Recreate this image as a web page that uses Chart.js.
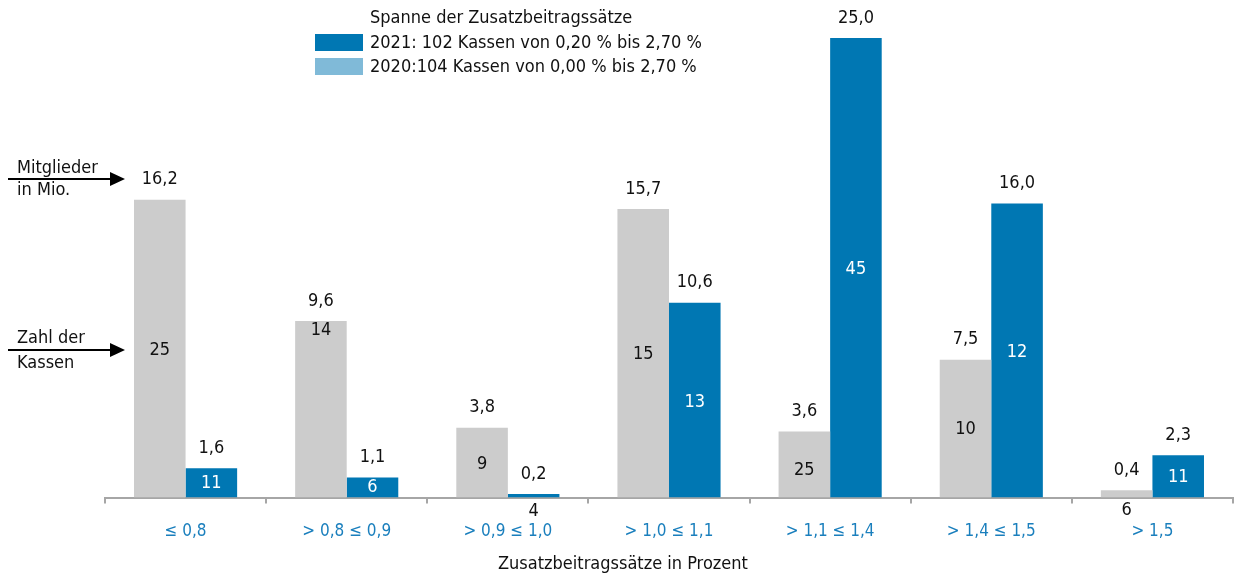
<!DOCTYPE html>
<html>
<head>
  <meta charset="utf-8">
  <title>Zusatzbeitragssätze</title>
  <script src="https://cdn.jsdelivr.net/npm/chart.js@4/dist/chart.umd.min.js"></script>
  <style>
    body { margin: 0; background: #fff; font-family: "Liberation Sans Narrow", "DejaVu Sans Condensed", sans-serif; }
    #wrap { position: relative; width: 1238px; height: 577px; }
    .txt { position: absolute; font-size: 18px; color: #111; white-space: nowrap; line-height: 22px; }
    .box { position: absolute; width: 48px; height: 17px; }
  </style>
</head>
<body>
  <div id="wrap">
    <canvas id="chart" width="1238" height="577"></canvas>
    <div class="txt" style="left:370px; top:6px;">Spanne der Zusatzbeitragssätze</div>
    <div class="box" style="left:315px; top:34px; background:#0077b3;"></div>
    <div class="txt" style="left:370px; top:31px;">2021: 102 Kassen von 0,20 % bis 2,70 %</div>
    <div class="box" style="left:315px; top:58px; background:#80bad8;"></div>
    <div class="txt" style="left:370px; top:55px;">2020:104 Kassen von 0,00 % bis 2,70 %</div>

    <div class="txt" style="left:17px; top:156px;">Mitglieder</div>
    <div class="txt" style="left:17px; top:178px;">in Mio.</div>
    <div class="txt" style="left:17px; top:326px;">Zahl der</div>
    <div class="txt" style="left:17px; top:351px;">Kassen</div>
    <svg style="position:absolute; left:0; top:0;" width="140" height="400">
      <line x1="8" y1="179" x2="112" y2="179" stroke="#000" stroke-width="2"/>
      <polygon points="110,172 125,179 110,186" fill="#000"/>
      <line x1="8" y1="350" x2="112" y2="350" stroke="#000" stroke-width="2"/>
      <polygon points="110,343 125,350 110,357" fill="#000"/>
    </svg>

    <div class="txt" style="left:498px; top:552px;">Zusatzbeitragssätze in Prozent</div>
  </div>
  <script>
    // Kategorien und Werte
    var categories = ["≤ 0,8", "> 0,8 ≤ 0,9", "> 0,9 ≤ 1,0", "> 1,0 ≤ 1,1", "> 1,1 ≤ 1,4", "> 1,4 ≤ 1,5", "> 1,5"];
    var members2020 = [16.2, 9.6, 3.8, 15.7, 3.6, 7.5, 0.4];
    var members2021 = [1.6, 1.1, 0.2, 10.6, 25.0, 16.0, 2.3];
    var funds2020 = [25, 14, 9, 15, 25, 10, 6];
    var funds2021 = [11, 6, 4, 13, 45, 12, 11];

    // where the Kassen count sits in each bar (y value on the scale)
    var countAt2020 = [8.0, 9.1, 1.8, 7.8, 1.5, 3.7, -0.7];
    var countAt2021 = [0.76, 0.54, -0.76, 5.2, 12.4, 7.9, 1.1];

    var fmt = function (v) { return v.toFixed(1).replace(".", ","); };
    var FONT = '"Liberation Sans Narrow", "DejaVu Sans Condensed", sans-serif';

    var barLabels = {
      id: 'barLabels',
      afterDatasetsDraw: function (chart) {
        var ctx = chart.ctx;
        var y = chart.scales.y;
        ctx.save();
        ctx.font = '18px ' + FONT;
        ctx.textAlign = 'center';
        ctx.textBaseline = 'middle';
        [[members2020, funds2020, countAt2020], [members2021, funds2021, countAt2021]].forEach(function (set, di) {
          var meta = chart.getDatasetMeta(di);
          meta.data.forEach(function (bar, i) {
            ctx.fillStyle = '#111';
            ctx.fillText(fmt(set[0][i]), bar.x, bar.y - 20);
            var cy = y.getPixelForValue(set[2][i]);
            var inside = set[2][i] > 0;
            ctx.fillStyle = (di === 1 && inside) ? '#fff' : '#111';
            ctx.fillText(String(set[1][i]), bar.x, cy);
          });
        });
        ctx.restore();
      }
    };

    var chart = new Chart(document.getElementById('chart'), {
      type: 'bar',
      data: {
        labels: categories,
        datasets: [
          { label: "2020", data: members2020, backgroundColor: '#cccccc' },
          { label: "2021", data: members2021, backgroundColor: '#0077b3' }
        ]
      },
      options: {
        responsive: false,
        animation: false,
        categoryPercentage: 0.64,
        barPercentage: 1.0,
        layout: { padding: { left: 105, right: 5, top: 38, bottom: 17 } },
        plugins: { legend: { display: false }, tooltip: { enabled: false } },
        scales: {
          x: {
            grid: { offset: true, drawOnChartArea: false, tickLength: 6, color: '#a6a6a6', lineWidth: 2 },
            border: { color: '#a6a6a6', width: 2 },
            ticks: { color: '#1a7fbd', font: { family: FONT, size: 17 }, padding: 18 }
          },
          y: { display: false, min: 0, max: 25 }
        }
      },
      plugins: [barLabels]
    });
  </script>
</body>
</html>
